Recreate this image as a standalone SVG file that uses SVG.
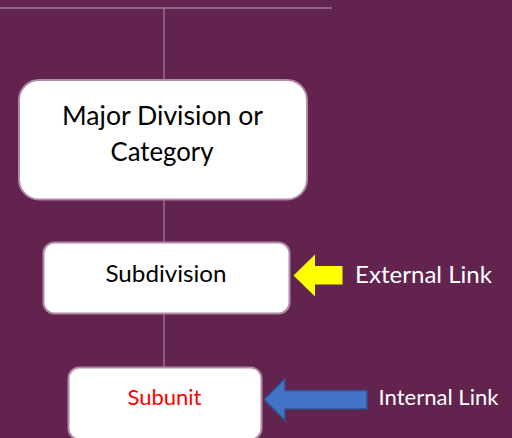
<svg xmlns="http://www.w3.org/2000/svg" width="512" height="438" viewBox="0 0 512 438">
<style>
.box{fill:#ffffff;stroke:#b08ba6;stroke-width:2}
.conn{stroke:#a07a96;stroke-width:1.3;fill:none}
.t{font-family:Lato,"Open Sans","Liberation Sans",sans-serif;text-anchor:middle}
.lbl{font-family:Lato,"Open Sans","Liberation Sans",sans-serif;fill:#ffffff}
</style>
<rect x="0" y="0" width="512" height="438" fill="#63234f"/>
<g id="connectors">
<line class="conn" x1="0" y1="8" x2="332" y2="8"/>
<line class="conn" x1="164" y1="8" x2="164" y2="80"/>
<line class="conn" x1="164" y1="200" x2="164" y2="242"/>
<line class="conn" x1="164" y1="313" x2="164" y2="368"/>
</g>
<g id="major">
<rect class="box" x="19" y="80" width="288" height="119.5" rx="20"/>
<text class="t" x="162.5" y="125" font-size="27.5" fill="#000" textLength="201" lengthAdjust="spacingAndGlyphs">Major Division or</text>
<text class="t" x="162" y="161" font-size="27.5" fill="#000" textLength="103" lengthAdjust="spacingAndGlyphs">Category</text>
</g>
<g id="subdivision">
<rect class="box" x="43.5" y="242.5" width="246" height="71" rx="11"/>
<text class="t" x="166" y="282" font-size="24" fill="#000" textLength="121" lengthAdjust="spacingAndGlyphs">Subdivision</text>
</g>
<g id="subunit">
<rect class="box" x="68.5" y="367.5" width="193" height="72" rx="11"/>
<text class="t" x="164.5" y="405" font-size="21.5" fill="#ff0000" textLength="74" lengthAdjust="spacingAndGlyphs">Subunit</text>
</g>
<g id="external-link">
<polygon points="293.5,275.5 315,254.5 315,266 342.5,266 342.5,284.5 315,284.5 315,296.5" fill="#ffff00"/>
<text class="lbl" x="355" y="283" font-size="24" textLength="137" lengthAdjust="spacingAndGlyphs">External Link</text>
</g>
<g id="internal-link">
<polygon points="264,399.5 285,378.5 285,390.5 367,390.5 367,409 285,409 285,420.5" fill="#4472c4" stroke="#2f528f" stroke-width="1.5" stroke-linejoin="miter"/>
<text class="lbl" x="378.5" y="405" font-size="21.5" textLength="120" lengthAdjust="spacingAndGlyphs">Internal Link</text>
</g>
</svg>
